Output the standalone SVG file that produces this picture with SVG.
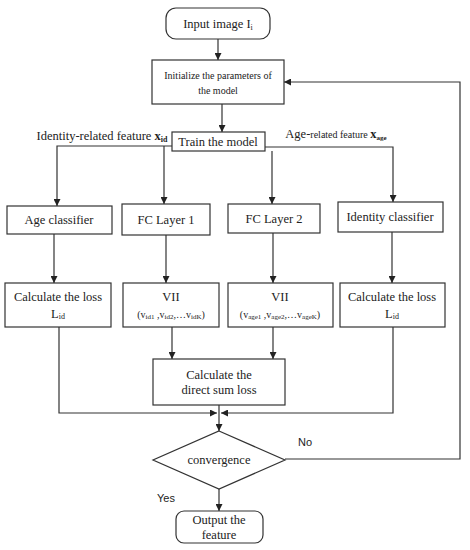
<svg xmlns="http://www.w3.org/2000/svg" width="470" height="550" viewBox="0 0 470 550">
<defs>
<style>
.b{fill:#fff;stroke:#333;stroke-width:1.2}
.l{fill:none;stroke:#333;stroke-width:1.2}
.t{font-family:"Liberation Serif","Times New Roman",serif;font-size:12.5px;fill:#222;text-anchor:middle}
.sm{font-size:10px}
.s{font-family:"Liberation Sans",Arial,sans-serif;font-size:11px;fill:#222}
</style>
<marker id="a" viewBox="0 0 10 10" refX="10" refY="5" markerWidth="7" markerHeight="7" orient="auto" markerUnits="userSpaceOnUse"><path d="M0,0L10,5L0,10z" fill="#222"/></marker>
</defs>
<rect width="470" height="550" fill="#fff"/>
<g id="connectors">
<path class="l" d="M218,39V60" marker-end="url(#a)"/>
<path class="l" d="M222,104V132" marker-end="url(#a)"/>
<path class="l" d="M172,146H57V206" marker-end="url(#a)"/>
<path class="l" d="M164,146V204" marker-end="url(#a)"/>
<path class="l" d="M265,147H393V202" marker-end="url(#a)"/>
<path class="l" d="M272,151V204" marker-end="url(#a)"/>
<path class="l" d="M54,234V283" marker-end="url(#a)"/>
<path class="l" d="M166,235V283" marker-end="url(#a)"/>
<path class="l" d="M273,233V283" marker-end="url(#a)"/>
<path class="l" d="M392,232V283" marker-end="url(#a)"/>
<path class="l" d="M172,327V359" marker-end="url(#a)"/>
<path class="l" d="M273,327V359" marker-end="url(#a)"/>
<path class="l" d="M59,327V413H217" marker-end="url(#a)"/>
<path class="l" d="M393,327V413H221" marker-end="url(#a)"/>
<path class="l" d="M219,405V431" marker-end="url(#a)"/>
<path class="l" d="M219,489V511" marker-end="url(#a)"/>
<path class="l" d="M285,459H460V82H284" marker-end="url(#a)"/>
</g>
<g id="input">
<rect class="b" x="166" y="8" width="104" height="31" rx="10"/>
<text class="t" x="218" y="28">Input image I<tspan font-size="8" dy="2">i</tspan></text>
</g>
<g id="init">
<rect class="b" x="152" y="60" width="132" height="44"/>
<text class="t sm" x="218" y="79">Initialize the parameters of</text>
<text class="t sm" x="218" y="94">the model</text>
</g>
<g id="train">
<rect class="b" x="172" y="132" width="93" height="19"/>
<text class="t" x="218" y="146">Train the model</text>
</g>
<g id="labels">
<text class="t" x="102" y="140">Identity-related feature <tspan font-weight="bold">x</tspan><tspan font-weight="bold" font-size="8" dy="2">id</tspan></text>
<text class="t" x="336" y="138">Age-<tspan font-size="10">related feature </tspan><tspan font-weight="bold">x</tspan><tspan font-weight="bold" font-size="7" dy="2">age</tspan></text>
</g>
<g id="age-classifier">
<rect class="b" x="7" y="206" width="105" height="28"/>
<text class="t" x="59" y="224">Age classifier</text>
</g>
<g id="fc1">
<rect class="b" x="122" y="204" width="88" height="31"/>
<text class="t" x="166" y="224">FC Layer 1</text>
</g>
<g id="fc2">
<rect class="b" x="228" y="204" width="92" height="29"/>
<text class="t" x="274" y="223">FC Layer  2</text>
</g>
<g id="identity-classifier">
<rect class="b" x="338" y="202" width="105" height="30"/>
<text class="t" x="390" y="221">Identity classifier</text>
</g>
<g id="loss-left">
<rect class="b" x="5" y="283" width="106" height="44"/>
<text class="t" x="58" y="301">Calculate the loss</text>
<text class="t" x="58" y="318">L<tspan font-size="8" dy="1">id</tspan></text>
</g>
<g id="vii1">
<rect class="b" x="123" y="283" width="96" height="44"/>
<text class="t" x="171" y="301">VII</text>
<text class="t sm" x="171" y="318">(v<tspan font-size="7" dy="1">id1</tspan><tspan dy="-1"> ,v</tspan><tspan font-size="7" dy="1">id2</tspan><tspan dy="-1">,…v</tspan><tspan font-size="7" dy="1">idK</tspan><tspan dy="-1">)</tspan></text>
</g>
<g id="vii2">
<rect class="b" x="228" y="283" width="105" height="44"/>
<text class="t" x="280" y="301">VII</text>
<text class="t sm" x="280" y="318">(v<tspan font-size="7" dy="1">age1</tspan><tspan dy="-1"> ,v</tspan><tspan font-size="7" dy="1">age2</tspan><tspan dy="-1">,…v</tspan><tspan font-size="7" dy="1">ageK</tspan><tspan dy="-1">)</tspan></text>
</g>
<g id="loss-right">
<rect class="b" x="340" y="283" width="105" height="44"/>
<text class="t" x="392" y="301">Calculate the loss</text>
<text class="t" x="392" y="318">L<tspan font-size="8" dy="1">id</tspan></text>
</g>
<g id="direct-sum">
<rect class="b" x="153" y="359" width="132" height="46"/>
<text class="t" x="219" y="379">Calculate the</text>
<text class="t" x="219" y="394">direct sum loss</text>
</g>
<g id="convergence">
<polygon class="b" points="219,431 285,460 219,489 153,460"/>
<text class="t" x="219" y="464">convergence</text>
</g>
<g id="output">
<rect class="b" x="176" y="511" width="87" height="32" rx="8"/>
<text class="t" x="219" y="524">Output the</text>
<text class="t" x="219" y="539">feature</text>
</g>
<text class="s" x="298" y="446">No</text>
<text class="s" x="157" y="502">Yes</text>
</svg>
